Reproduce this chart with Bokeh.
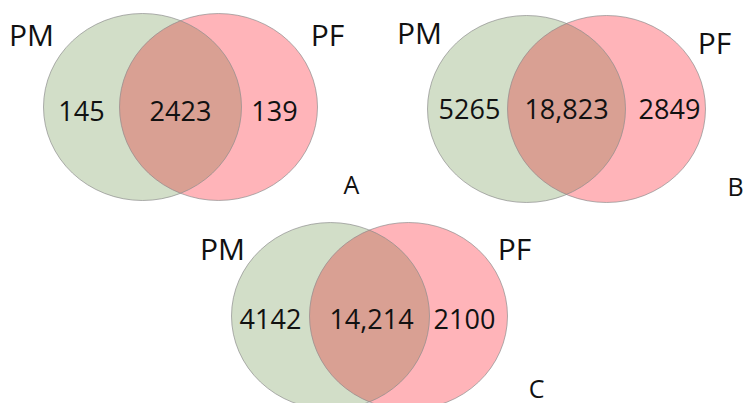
import numpy as np
from bokeh.plotting import figure
from bokeh.models import Range1d
from bokeh.core.properties import value
from bokeh.embed import file_html
from bokeh.resources import INLINE

# ---- data ----
panels = ["A", "B", "C"]
set_names = ["PM", "PF"]
only_pm = ["145", "5265", "4142"]
shared = ["2423", "18,823", "14,214"]
only_pf = ["139", "2849", "2100"]

# ---- layout (page pixel coordinates) ----
green_cx = [142, 526, 330]
pink_cx = [218, 606, 408]
center_y = [106.5, 108.5, 315.5]
half_w = 99
half_h = 93.5

pm_label_xy = [(31, 34), (419, 32), (222, 248)]
pf_label_xy = [(327, 34), (714, 42), (514, 248)]
num_y = [110, 108, 318]
pm_num_x = [81, 469, 270]
mid_num_x = [180, 566, 371]
pf_num_x = [274, 669, 464]
panel_xy = [(351, 183), (735, 185), (536, 387)]

GREEN = "#d2dec8"
PINK = "#ffb4b9"
LENS = "#d9a093"
EDGE = "#8f8f8f"
FONT = value("Open Sans")

W, H = 744, 403
p = figure(width=W, height=H, output_backend="svg", toolbar_location=None,
           x_range=Range1d(0, W), y_range=Range1d(H, 0),
           min_border=0)
p.axis.visible = False
p.grid.visible = False
p.outline_line_color = None
p.background_fill_color = "white"

for i in range(3):
    cy = center_y[i]
    c1, c2 = green_cx[i], pink_cx[i]
    p.ellipse(x=[c1], y=[cy], width=2 * half_w, height=2 * half_h,
              fill_color=GREEN, line_color=None)
    p.ellipse(x=[c2], y=[cy], width=2 * half_w, height=2 * half_h,
              fill_color=PINK, line_color=None)
    # lens (intersection) computed from the two ellipses
    d = c2 - c1
    t0 = np.arccos((d / 2) / half_w)
    t1 = np.linspace(-t0, t0, 120)
    t2 = np.linspace(np.pi - t0, np.pi + t0, 120)
    lx = np.concatenate([c1 + half_w * np.cos(t1), c2 + half_w * np.cos(t2)])
    ly = np.concatenate([cy + half_h * np.sin(t1), cy + half_h * np.sin(t2)])
    p.patch(lx, ly, fill_color=LENS, line_color=None)
    for c in (c1, c2):
        p.ellipse(x=[c], y=[cy], width=2 * half_w, height=2 * half_h,
                  fill_color=None, line_color=EDGE, line_alpha=0.7, line_width=1)

    p.text(x=[pm_label_xy[i][0]], y=[pm_label_xy[i][1]], text=[set_names[0]],
           text_font=FONT, text_font_size="30px", text_align="center",
           text_baseline="middle", text_color="#111111")
    p.text(x=[pf_label_xy[i][0]], y=[pf_label_xy[i][1]], text=[set_names[1]],
           text_font=FONT, text_font_size="30px", text_align="center",
           text_baseline="middle", text_color="#111111")
    p.text(x=[pm_num_x[i], mid_num_x[i], pf_num_x[i]], y=[num_y[i]] * 3,
           text=[only_pm[i], shared[i], only_pf[i]],
           text_font=FONT, text_font_size="27px", text_align="center",
           text_baseline="middle", text_color="#111111")
    p.text(x=[panel_xy[i][0]], y=[panel_xy[i][1]], text=[panels[i]],
           text_font=FONT, text_font_size="25px", text_align="center",
           text_baseline="middle", text_color="#111111")

open("out.html", "w").write(file_html(p, INLINE))
